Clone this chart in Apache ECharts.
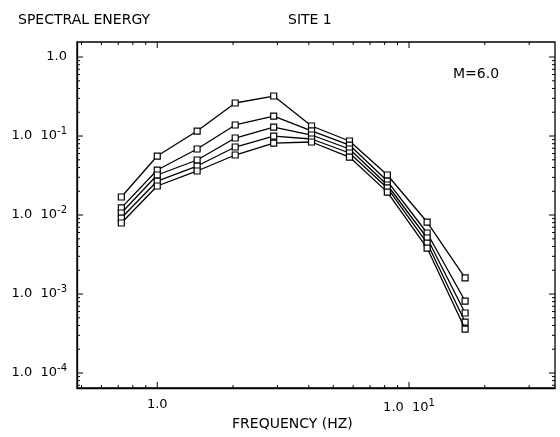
<!DOCTYPE html>
<html>
<head>
<meta charset="utf-8">
<script src="https://cdn.jsdelivr.net/npm/echarts@6/dist/echarts.min.js"></script>
<style>
html,body{margin:0;padding:0;background:#fff;}
#chart{width:560px;height:437px;}
</style>
</head>
<body>
<div id="chart"></div>
<script>
// Frequencies (Hz)
const freqs = [0.72, 1.0, 1.44, 2.04, 2.9, 4.1, 5.8, 8.2, 11.8, 16.7];
// Spectral energy curves (top to bottom)
const curveA = [0.0169, 0.0558, 0.1157, 0.262, 0.321, 0.134, 0.0865, 0.0321, 0.00815, 0.0016];
const curveB = [0.0123, 0.0371, 0.0685, 0.138, 0.179, 0.116, 0.0769, 0.0269, 0.00592, 0.000815];
const curveC = [0.0106, 0.0321, 0.0497, 0.0944, 0.130, 0.103, 0.0685, 0.0240, 0.00512, 0.000575];
const curveD = [0.00916, 0.0269, 0.0417, 0.0726, 0.100, 0.0917, 0.0610, 0.0220, 0.00442, 0.000442];
const curveE = [0.00792, 0.0233, 0.0361, 0.0575, 0.0815, 0.0840, 0.0542, 0.0195, 0.00382, 0.00036];
const curves = [curveA, curveB, curveC, curveD, curveE];

// Axis ranges and ticks
const xMin = 0.48, xMax = 38;
const yMin = 6.46e-5, yMax = 1.55;
const xMajorTicks = [1, 10];
const yMajorTicks = [1e-4, 1e-3, 1e-2, 1e-1, 1];
const minorMultipliers = [2, 3, 4, 5, 6, 7, 8, 9];
const xDecades = [0.1, 1, 10];
const yDecades = [1e-5, 1e-4, 1e-3, 1e-2, 1e-1, 1];

const tickData = [];
yMajorTicks.forEach(v => tickData.push([xMin, v, 0, 6]));
xMajorTicks.forEach(v => tickData.push([v, yMin, 1, 6]));
yDecades.forEach(d => minorMultipliers.forEach(m => {
  const v = m * d; if (v > yMin && v < yMax) tickData.push([xMin, v, 0, 3]);
}));
xDecades.forEach(d => minorMultipliers.forEach(m => {
  const v = m * d; if (v > xMin && v < xMax) tickData.push([v, yMin, 1, 3]);
}));

function expLabel(v) {
  const e = Math.round(Math.log10(v));
  if (Math.abs(Math.log10(v) - e) > 1e-6) return '';
  if (e === 0) return '1.0';
  return '1.0  10{s|' + e + '}';
}

const FONT = 'DejaVu Sans';
const lineSeries = curves.map((c, i) => ({
  type: 'line',
  data: freqs.map((f, j) => [f, c[j]]),
  symbol: 'rect',
  symbolSize: 6,
  lineStyle: { color: '#000', width: 1.3 },
  itemStyle: { color: '#fff', borderColor: '#000', borderWidth: 1.2 },
  z: 3 + i,
  animation: false
}));

const tickSeries = {
  type: 'custom',
  silent: true,
  clip: false,
  animation: false,
  data: tickData,
  z: 10,
  renderItem: function (params, api) {
    const cs = params.coordSys;
    const kind = api.value(2), len = api.value(3);
    const p = api.coord([api.value(0), api.value(1)]);
    const style = { stroke: '#000', lineWidth: 1 };
    if (kind === 0) {
      const y = p[1];
      return { type: 'group', children: [
        { type: 'line', shape: { x1: cs.x, y1: y, x2: cs.x + len, y2: y }, style },
        { type: 'line', shape: { x1: cs.x + cs.width, y1: y, x2: cs.x + cs.width - len, y2: y }, style }
      ]};
    } else {
      const x = p[0];
      return { type: 'group', children: [
        { type: 'line', shape: { x1: x, y1: cs.y + cs.height, x2: x, y2: cs.y + cs.height - len }, style },
        { type: 'line', shape: { x1: x, y1: cs.y, x2: x, y2: cs.y + len }, style }
      ]};
    }
  }
};

const labelRich = { s: { fontSize: 10, fontFamily: FONT, color: '#000', padding: [0, 0, 10, 0] } };

const chart = echarts.init(document.getElementById('chart'), null, { renderer: 'canvas' });
chart.setOption({
  backgroundColor: '#fff',
  animation: false,
  grid: { left: 77, right: 5, top: 42, bottom: 49, show: true, borderColor: '#000', borderWidth: 1.3, backgroundColor: 'transparent' },
  xAxis: {
    type: 'log', min: xMin, max: xMax, logBase: 10,
    axisLine: { show: true, lineStyle: { color: '#000', width: 1.3 } },
    axisTick: { show: false },
    splitLine: { show: false },
    axisLabel: {
      showMinLabel: false, showMaxLabel: false,
      color: '#000', fontFamily: FONT, fontSize: 13, margin: 10,
      formatter: expLabel, rich: labelRich
    }
  },
  yAxis: {
    type: 'log', min: yMin, max: yMax, logBase: 10,
    axisLine: { show: true, lineStyle: { color: '#000', width: 1.3 } },
    axisTick: { show: false },
    splitLine: { show: false },
    axisLabel: {
      showMinLabel: false, showMaxLabel: false,
      color: '#000', fontFamily: FONT, fontSize: 13, margin: 10,
      formatter: expLabel, rich: labelRich
    }
  },
  graphic: [
    { type: 'text', left: 18, top: 13, style: { text: 'SPECTRAL ENERGY', font: '14px "DejaVu Sans"', fill: '#000' } },
    { type: 'text', left: 288, top: 13, style: { text: 'SITE 1', font: '14px "DejaVu Sans"', fill: '#000' } },
    { type: 'text', left: 453, top: 67, style: { text: 'M=6.0', font: '14px "DejaVu Sans"', fill: '#000' } },
    { type: 'text', left: 232, top: 417, style: { text: 'FREQUENCY (HZ)', font: '14px "DejaVu Sans"', fill: '#000' } }
  ],
  series: lineSeries.concat([tickSeries])
});
</script>
</body>
</html>
